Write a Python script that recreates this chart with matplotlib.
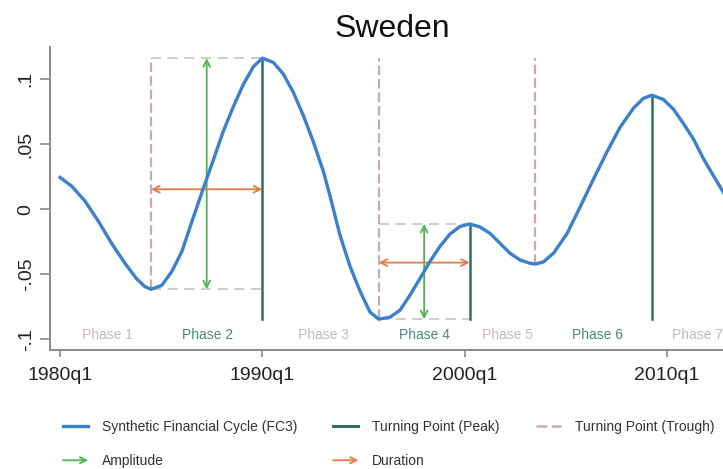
import matplotlib
matplotlib.use("Agg")
import matplotlib.pyplot as plt
from matplotlib.lines import Line2D
from matplotlib.patches import FancyArrowPatch
from matplotlib.legend_handler import HandlerBase

plt.rcParams['font.family'] = ['Liberation Sans', 'DejaVu Sans']

# ---- data (decimal years) ----
fc_dates = [1980.00, 1980.58, 1981.24, 1981.89, 1982.55, 1983.21, 1983.79, 1984.20,
            1984.50, 1985.03, 1985.52, 1986.02, 1986.55, 1987.08, 1987.58, 1988.07,
            1988.57, 1989.06, 1989.56, 1990.00, 1990.54, 1991.04, 1991.53, 1992.03,
            1992.52, 1993.02, 1993.35, 1993.84, 1994.34, 1994.83, 1995.32, 1995.75,
            1996.31, 1996.81, 1997.30, 1997.80, 1998.29, 1998.78, 1999.28, 1999.77,
            2000.25, 2000.76, 2001.25, 2001.75, 2002.24, 2002.74, 2003.23, 2003.50,
            2003.89, 2004.39, 2005.05, 2005.70, 2006.36, 2007.02, 2007.68, 2008.34,
            2008.83, 2009.25, 2009.82, 2010.32, 2010.81, 2011.31, 2011.80, 2012.29,
            2012.77, 2013.00]
fc_values = [0.0245, 0.0178, 0.0062, -0.0090, -0.0262, -0.0415, -0.0535, -0.0595,
             -0.0615, -0.0585, -0.0480, -0.0326, -0.0080, 0.0160, 0.0380, 0.0600,
             0.0790, 0.0960, 0.1097, 0.1162, 0.1130, 0.1040, 0.0900, 0.0720,
             0.0520, 0.0290, 0.0100, -0.0200, -0.0440, -0.0630, -0.0790, -0.0845,
             -0.0830, -0.0775, -0.0660, -0.0530, -0.0400, -0.0285, -0.0190, -0.0132,
             -0.0113, -0.0136, -0.0185, -0.0262, -0.0338, -0.0390, -0.0415, -0.0421,
             -0.0405, -0.0338, -0.0190, 0.0015, 0.0230, 0.0437, 0.0630, 0.0777,
             0.0853, 0.0877, 0.0845, 0.0770, 0.0660, 0.0540, 0.0390, 0.0260,
             0.0135, 0.0080]

peak_dates = [1990.00, 2000.25, 2009.25]
peak_values = [0.1162, -0.0113, 0.0877]
trough_dates = [1984.50, 1995.75, 2003.50]
trough_values = [-0.0615, -0.0845, -0.0421]

# illustrated phases (2 and 4)
demo_trough_dates = [1984.50, 1995.75]
demo_peak_dates = [1990.00, 2000.25]
demo_low = [-0.0615, -0.0845]
demo_high = [0.1162, -0.0113]
duration_level = [0.0154, -0.041]

phase_labels = ['Phase 1', 'Phase 2', 'Phase 3', 'Phase 4', 'Phase 5', 'Phase 6', 'Phase 7']
phase_x = [1982.32, 1987.27, 1993.0, 1998.04, 2002.1, 2006.55, 2011.5]
phase_y = -0.0967

xtick_pos = [1980, 1990, 2000, 2010]
xtick_labels = ['1980q1', '1990q1', '2000q1', '2010q1']
ytick_pos = [-0.1, -0.05, 0, 0.05, 0.1]
ytick_labels = ['-.1', '-.05', '0', '.05', '.1']

# ---- colours ----
C_FC = '#3a80cc'
C_PEAK = '#2f6e62'
C_TROUGH = '#c7abae'
C_GUIDE = '#c4c4c4'
C_AMP = '#4db34d'
C_DUR = '#e37a45'
C_ODD = '#c9b6b8'
C_EVEN = '#4a897b'

fig = plt.figure(figsize=(7.23, 4.69), dpi=100)
ax = fig.add_axes([50/723, 1-350/469, 1-50/723, (350-47)/469])
ax.set_xlim(1979.505, 2012.77)
ax.set_ylim(-0.1082, 0.1248)

top_level = max(peak_values)
bottom_level = min(trough_values)

for td, pd_, lo, hi in zip(demo_trough_dates, demo_peak_dates, demo_low, demo_high):
    ax.plot([td, pd_], [hi, hi], color=C_GUIDE, lw=1.2, dashes=(6, 4), zorder=1)
    ax.plot([td, pd_], [lo, lo], color=C_GUIDE, lw=1.2, dashes=(6, 4), zorder=1)

for d, v in zip(trough_dates, trough_values):
    ax.plot([d, d], [v, top_level], color=C_TROUGH, lw=1.6, dashes=(4.3, 1.8), zorder=2)
for d, v in zip(peak_dates, peak_values):
    ax.plot([d, d], [bottom_level, v], color=C_PEAK, lw=1.8, zorder=2)

for td, pd_, lo, hi, dl in zip(demo_trough_dates, demo_peak_dates, demo_low, demo_high, duration_level):
    mid = (td + pd_) / 2
    ax.annotate('', xy=(mid, hi), xytext=(mid, lo),
                arrowprops=dict(arrowstyle='<->', color=C_AMP, lw=1.3,
                                mutation_scale=12, shrinkA=0, shrinkB=0), zorder=3)
    ax.annotate('', xy=(pd_, dl), xytext=(td, dl),
                arrowprops=dict(arrowstyle='<->', color=C_DUR, lw=1.3,
                                mutation_scale=12, shrinkA=0, shrinkB=0), zorder=3)

ax.plot(fc_dates, fc_values, color=C_FC, lw=2.4, zorder=4, solid_joinstyle='round')

for i, (lab, x) in enumerate(zip(phase_labels, phase_x)):
    ax.text(x, phase_y, lab, ha='center', va='center', fontsize=10,
            color=C_EVEN if i % 2 == 1 else C_ODD, clip_on=False)

for s in ['top', 'right']:
    ax.spines[s].set_visible(False)
for s in ['left', 'bottom']:
    ax.spines[s].set_color('#8a8a8a')
    ax.spines[s].set_linewidth(1.4)
ax.set_xticks(xtick_pos)
ax.set_xticklabels(xtick_labels)
ax.set_yticks(ytick_pos)
ax.set_yticklabels(ytick_labels, rotation=90, va='center')
ax.tick_params(axis='x', length=5, width=1.2, color='#8a8a8a', labelsize=14, pad=7, labelcolor='#222222')
ax.tick_params(axis='y', length=7, width=1.2, color='#8a8a8a', labelsize=14, pad=4, labelcolor='#222222')

fig.text(392/723, 1-37/469, 'Sweden', ha='center', va='baseline', fontsize=23, color='#111111')

class ArrowHandler(HandlerBase):
    def create_artists(self, legend, orig_handle, xdescent, ydescent, width, height, fontsize, trans):
        y = height / 2 - ydescent
        arr = FancyArrowPatch((-xdescent, y), (width - xdescent, y), arrowstyle='->',
                              mutation_scale=11, color=orig_handle.get_color(), lw=1.3,
                              shrinkA=0, shrinkB=0, transform=trans)
        return [arr]

h_fc = Line2D([], [], color=C_FC, lw=2.4)
h_peak = Line2D([], [], color=C_PEAK, lw=2.2)
h_trough = Line2D([], [], color=C_TROUGH, lw=1.8, dashes=(4.3, 1.8))
h_amp = Line2D([], [], color=C_AMP)
h_dur = Line2D([], [], color=C_DUR)
handles = [h_fc, h_amp, h_peak, h_dur, h_trough]
labels = ['Synthetic Financial Cycle (FC3)', 'Amplitude', 'Turning Point (Peak)', 'Duration',
          'Turning Point (Trough)']
leg = fig.legend(handles, labels, ncol=3, loc='upper left', bbox_to_anchor=(63/723, 1-420/469),
                 frameon=False, fontsize=10, handlelength=1.8, handletextpad=1.0,
                 columnspacing=2.6, labelspacing=1.45, borderpad=0, borderaxespad=0,
                 handler_map={h_amp: ArrowHandler(), h_dur: ArrowHandler()})
for t in leg.get_texts():
    t.set_color('#333333')

fig.savefig('out.png', dpi=100)
